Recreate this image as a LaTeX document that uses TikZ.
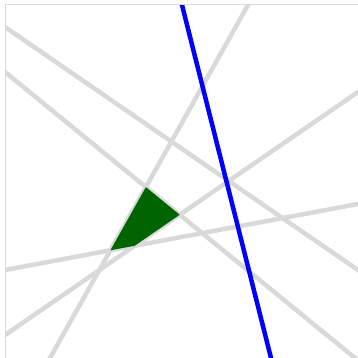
\documentclass[tikz,border=0pt]{standalone}
\usetikzlibrary{calc}
\begin{document}
\begin{tikzpicture}[x=1pt,y=-1pt,
  gline/.style={draw=lgray,line width=4.5pt},
  bline/.style={draw=blue,line width=4.5pt}]
\definecolor{lgray}{RGB}{217,217,217}
\definecolor{fgreen}{RGB}{0,100,0}
\useasboundingbox (0,0) rectangle (358,358);
% line endpoints (extended)
\coordinate (a1) at (5,27);   \coordinate (a2) at (358,270);
\coordinate (b1) at (5,72);   \coordinate (b2) at (355,358);
\coordinate (c1) at (248,5);  \coordinate (c2) at (50,358);
\coordinate (d1) at (5,335);  \coordinate (d2) at (358,92);
\coordinate (e1) at (5,270);  \coordinate (e2) at (358,204);
\coordinate (f1) at (182,5);  \coordinate (f2) at (271,358);
% green region corners
\coordinate (p1) at (intersection of c1--c2 and b1--b2);
\coordinate (p2) at (intersection of b1--b2 and d1--d2);
\coordinate (p3) at (intersection of d1--d2 and e1--e2);
\coordinate (p4) at (intersection of e1--e2 and c1--c2);
\begin{scope}
\clip (5,5) rectangle (363,363);
\draw[gline] ($(a1)!-0.1!(a2)$) -- ($(a1)!1.1!(a2)$);
\draw[gline] ($(b1)!-0.1!(b2)$) -- ($(b1)!1.1!(b2)$);
\draw[gline] ($(c1)!-0.1!(c2)$) -- ($(c1)!1.1!(c2)$);
\draw[gline] ($(d1)!-0.1!(d2)$) -- ($(d1)!1.1!(d2)$);
\draw[gline] ($(e1)!-0.1!(e2)$) -- ($(e1)!1.1!(e2)$);
\fill[fgreen] (p1) -- (p2) -- (p3) -- (p4) -- cycle;
\draw[bline] ($(f1)!-0.1!(f2)$) -- ($(f1)!1.1!(f2)$);
\end{scope}
\draw[lgray,line width=1pt] (5,363) -- (5,5) -- (363,5);
\end{tikzpicture}
\end{document}
